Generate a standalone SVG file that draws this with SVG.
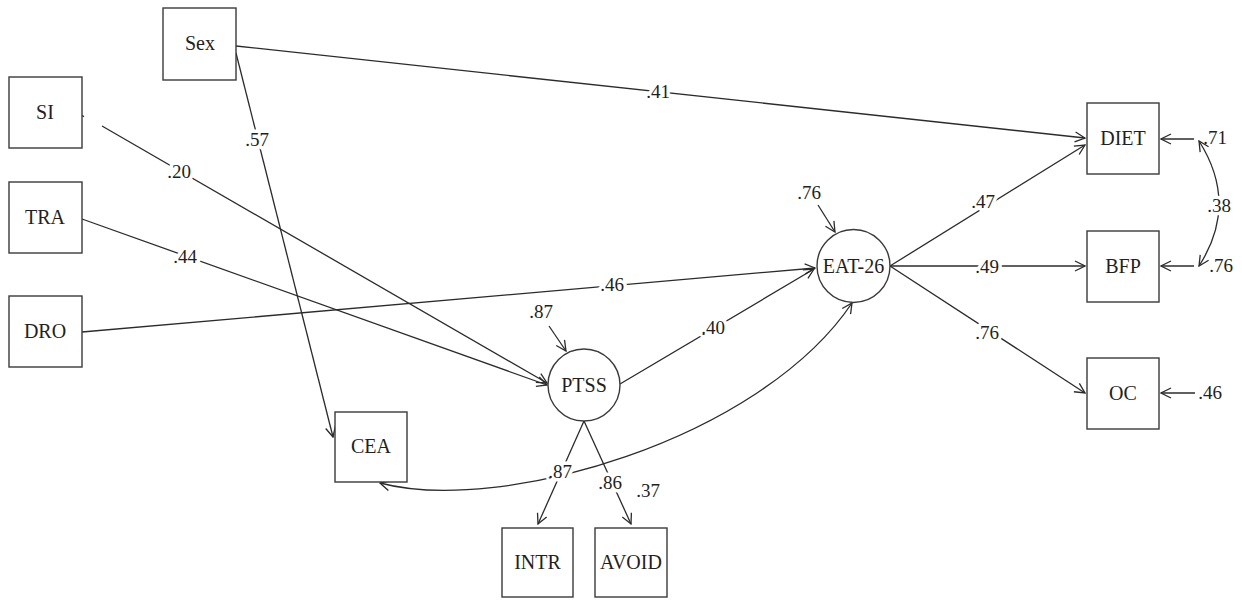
<svg xmlns="http://www.w3.org/2000/svg" width="1242" height="601" viewBox="0 0 1242 601">
<style>
.box{fill:#fff;stroke:#3a3a3a;stroke-width:1.4}
.nt{font-family:"Liberation Serif","Times New Roman",serif;font-size:20px;fill:#231f20;text-anchor:middle}
.lb{font-family:"Liberation Serif","Times New Roman",serif;font-size:19px;fill:#231f20;text-anchor:middle;stroke:#fff;stroke-width:7;paint-order:stroke;stroke-linejoin:round}
.lp{font-family:"Liberation Serif","Times New Roman",serif;font-size:19px;fill:#231f20;text-anchor:middle}
.c{fill:none;stroke:#2b2b2b;stroke-width:1.3}
</style>
<defs>
<marker id="ah" markerUnits="userSpaceOnUse" markerWidth="12" markerHeight="12" viewBox="0 0 12 12" refX="11" refY="6" orient="auto-start-reverse">
<path d="M1,1 L11,6 L1,11" fill="none" stroke="#2b2b2b" stroke-width="1.3"/>
</marker>
</defs>
<rect width="1242" height="601" fill="#fff"/>
<g id="connectors">
<line class="c" x1="236" y1="46" x2="1085" y2="138" marker-end="url(#ah)"/>
<line class="c" x1="236" y1="53" x2="333" y2="437" marker-end="url(#ah)"/>
<line class="c" x1="82" y1="115.5" x2="84" y2="116.6"/>
<line class="c" x1="102" y1="126" x2="547" y2="383" marker-end="url(#ah)"/>
<line class="c" x1="82" y1="219" x2="547" y2="385" marker-end="url(#ah)"/>
<line class="c" x1="82" y1="332" x2="815" y2="268" marker-end="url(#ah)"/>
<line class="c" x1="620" y1="384" x2="814" y2="269" marker-end="url(#ah)"/>
<line class="c" x1="549" y1="326" x2="566" y2="351" marker-end="url(#ah)"/>
<line class="c" x1="818" y1="205" x2="835" y2="232" marker-end="url(#ah)"/>
<line class="c" x1="890" y1="266" x2="1085" y2="145" marker-end="url(#ah)"/>
<line class="c" x1="890" y1="266" x2="1085" y2="266" marker-end="url(#ah)"/>
<line class="c" x1="890" y1="266" x2="1085" y2="393" marker-end="url(#ah)"/>
<line class="c" x1="1194" y1="139" x2="1161" y2="139" marker-end="url(#ah)"/>
<line class="c" x1="1194" y1="266" x2="1161" y2="266" marker-end="url(#ah)"/>
<line class="c" x1="1195" y1="393" x2="1161" y2="393" marker-end="url(#ah)"/>
<path class="c" d="M1199,141 Q1239,204 1199,266" marker-start="url(#ah)" marker-end="url(#ah)"/>
<line class="c" x1="584" y1="421" x2="538" y2="524" marker-end="url(#ah)"/>
<line class="c" x1="584" y1="421" x2="631" y2="524" marker-end="url(#ah)"/>
<path class="c" d="M380,483 C500,515 760,440 852,303" marker-start="url(#ah)" marker-end="url(#ah)"/>
</g>
<g id="labels">
<text class="lb" x="658" y="98">.41</text>
<text class="lb" x="257" y="146">.57</text>
<text class="lb" x="179" y="178">.20</text>
<text class="lb" x="185" y="263">.44</text>
<text class="lb" x="612" y="291">.46</text>
<text class="lp" x="541" y="318">.87</text>
<text class="lp" x="809" y="199">.76</text>
<text class="lb" x="713" y="334">.40</text>
<text class="lb" x="983" y="208">.47</text>
<text class="lb" x="987" y="273">.49</text>
<text class="lb" x="987" y="339">.76</text>
<text class="lp" x="1215" y="144">.71</text>
<text class="lb" x="1219" y="212">.38</text>
<text class="lp" x="1221" y="272">.76</text>
<text class="lp" x="1210" y="399">.46</text>
<text class="lb" x="560" y="478">.87</text>
<text class="lb" x="610" y="489">.86</text>
<text class="lp" x="648" y="497">.37</text>
</g>
<g id="Sex"><rect class="box" x="163" y="8" width="73" height="72"/><text class="nt" x="200" y="50">Sex</text></g>
<g id="SI"><rect class="box" x="9" y="77" width="73" height="71"/><text class="nt" x="45" y="119">SI</text></g>
<g id="TRA"><rect class="box" x="9" y="182" width="73" height="71"/><text class="nt" x="45" y="224">TRA</text></g>
<g id="DRO"><rect class="box" x="9" y="296" width="73" height="71"/><text class="nt" x="45" y="338">DRO</text></g>
<g id="CEA"><rect class="box" x="335" y="412" width="72" height="70"/><text class="nt" x="371" y="453">CEA</text></g>
<g id="PTSS"><circle class="box" cx="584" cy="385" r="36"/><text class="nt" x="584" y="392">PTSS</text></g>
<g id="EAT-26"><circle class="box" cx="853.5" cy="266" r="36.5"/><text class="nt" x="853.5" y="273">EAT-26</text></g>
<g id="INTR"><rect class="box" x="502" y="528" width="71" height="69"/><text class="nt" x="537.5" y="569">INTR</text></g>
<g id="AVOID"><rect class="box" x="595" y="528" width="72" height="69"/><text class="nt" x="631" y="569">AVOID</text></g>
<g id="DIET"><rect class="box" x="1087" y="103" width="72" height="71"/><text class="nt" x="1123" y="145">DIET</text></g>
<g id="BFP"><rect class="box" x="1087" y="231" width="72" height="71"/><text class="nt" x="1123" y="273">BFP</text></g>
<g id="OC"><rect class="box" x="1087" y="358" width="72" height="71"/><text class="nt" x="1123" y="400">OC</text></g>
</svg>
